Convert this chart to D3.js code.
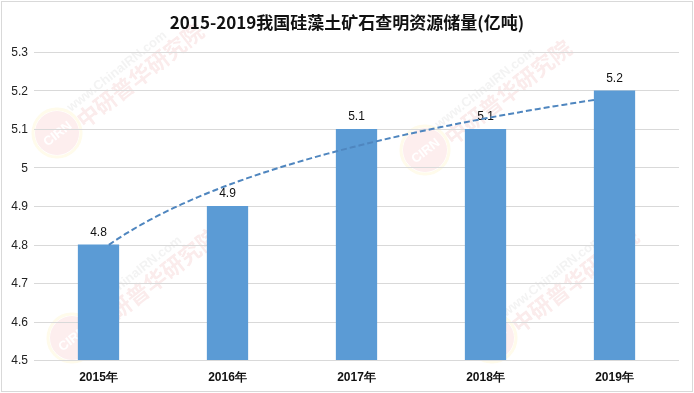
<!DOCTYPE html>
<html>
<head>
<meta charset="utf-8">
<script src="https://cdn.jsdelivr.net/npm/d3@7/dist/d3.min.js"></script>
<style>
  html, body { margin: 0; padding: 0; background: #fff; }
  svg { display: block; }
</style>
</head>
<body>
<svg id="chart" width="694" height="393"></svg>
<script>
// ---- data ----
const title = "2015-2019我国硅藻土矿石查明资源储量(亿吨)";
const categories = ["2015年", "2016年", "2017年", "2018年", "2019年"];
const values = [4.8, 4.9, 5.1, 5.1, 5.2];
const yTicks = [4.5, 4.6, 4.7, 4.8, 4.9, 5.0, 5.1, 5.2, 5.3];
const yTickLabels = ["4.5", "4.6", "4.7", "4.8", "4.9", "5", "5.1", "5.2", "5.3"];

// ---- layout ----
const W = 694, H = 393;
const plot = { left: 34, right: 679, top: 52, bottom: 360 };
const svg = d3.select("#chart");
const font = "'Liberation Sans', Arial, sans-serif";

svg.append("rect").attr("x", 0).attr("y", 0).attr("width", W).attr("height", H).attr("fill", "#fff");
svg.append("rect").attr("x", 1.5).attr("y", 1.5).attr("width", W - 3).attr("height", H - 3)
  .attr("fill", "none").attr("stroke", "#d9d9d9").attr("stroke-width", 1);

const x = d3.scaleBand().domain(categories).range([plot.left, plot.right])
  .paddingInner(0.68).paddingOuter(0.34);
const y = d3.scaleLinear().domain([4.5, 5.3]).range([plot.bottom, plot.top]);

// ---- watermarks (faint) ----
const wm = svg.append("g").attr("opacity", 0.09);
[[57, 133], [425, 150], [72, 338], [492, 338]].forEach(([cx, cy]) => {
  const g = wm.append("g").attr("transform", `translate(${cx},${cy})`);
  g.append("circle").attr("r", 22).attr("fill", "#e8383d");
  g.append("circle").attr("r", 24).attr("fill", "none").attr("stroke", "#f5d020").attr("stroke-width", 3);
  g.append("text").attr("transform", "rotate(-38)").attr("text-anchor", "middle").attr("dy", 5)
    .attr("font-family", font).attr("font-weight", "bold").attr("font-size", 13)
    .attr("fill", "#fff").text("CIRN");
  const t = g.append("g").attr("transform", "rotate(-38)");
  t.append("text").attr("x", 24).attr("y", -8).attr("font-family", font).attr("font-weight", "bold")
    .attr("font-size", 13).attr("fill", "#777").text("www.ChinaIRN.com");
  t.append("text").attr("x", 24).attr("y", 14).attr("font-family", "'Noto Sans CJK SC', sans-serif")
    .attr("font-weight", "bold").attr("font-size", 22).attr("fill", "#c22").text("中研普华研究院");
});

// ---- gridlines ----
svg.append("g").selectAll("line").data(yTicks.slice(1)).join("line")
  .attr("x1", plot.left).attr("x2", plot.right)
  .attr("y1", d => Math.round(y(d)) + 0.5).attr("y2", d => Math.round(y(d)) + 0.5)
  .attr("stroke", "#d9d9d9").attr("stroke-width", 1);

// x axis line
svg.append("line").attr("x1", plot.left).attr("x2", plot.right)
  .attr("y1", plot.bottom + 0.5).attr("y2", plot.bottom + 0.5)
  .attr("stroke", "#d9d9d9").attr("stroke-width", 1);

// ---- y tick labels ----
svg.append("g").selectAll("text").data(yTicks).join("text")
  .attr("x", 28).attr("y", d => y(d) + 4)
  .attr("text-anchor", "end").attr("font-family", font).attr("font-size", 12)
  .attr("fill", "#222").text((d, i) => yTickLabels[i]);

// ---- bars ----
svg.append("g").selectAll("rect").data(values).join("rect")
  .attr("x", (d, i) => x(categories[i])).attr("width", x.bandwidth())
  .attr("y", d => y(d)).attr("height", d => y(4.5) - y(d))
  .attr("fill", "#5b9bd5");

// ---- data labels ----
svg.append("g").selectAll("text").data(values).join("text")
  .attr("x", (d, i) => x(categories[i]) + x.bandwidth() / 2).attr("y", d => y(d) - 9)
  .attr("text-anchor", "middle").attr("font-family", font).attr("font-size", 12)
  .attr("fill", "#111").text(d => String(d));

// ---- x labels ----
svg.append("g").selectAll("text").data(categories).join("text")
  .attr("x", d => x(d) + x.bandwidth() / 2).attr("y", 381)
  .attr("text-anchor", "middle").attr("font-family", font).attr("font-weight", "bold")
  .attr("font-size", 12).attr("fill", "#111").text(d => d);

// ---- logarithmic trendline (least squares fit y = a + b ln x) ----
const xs = values.map((d, i) => i + 1);
const lx = xs.map(Math.log);
const mlx = d3.mean(lx), my = d3.mean(values);
const b = d3.sum(lx, (l, i) => (l - mlx) * (values[i] - my)) / d3.sum(lx, l => (l - mlx) ** 2);
const a = my - b * mlx;
const xi = d3.scaleLinear().domain([1, categories.length])
  .range([x(categories[0]) + x.bandwidth() / 2, x(categories[categories.length - 1]) + x.bandwidth() / 2]);
const tFrom = 1.08, tTo = 4.85;
const trendPts = d3.range(0, 61).map(k => tFrom + (tTo - tFrom) * k / 60);
svg.append("path")
  .datum(trendPts)
  .attr("d", d3.line().x(t => xi(t)).y(t => y(a + b * Math.log(t))).curve(d3.curveLinear))
  .attr("fill", "none").attr("stroke", "#4f86bf").attr("stroke-width", 2)
  .attr("stroke-dasharray", "6,3");

// ---- title ----
svg.append("text").attr("x", 347).attr("y", 29).attr("text-anchor", "middle")
  .attr("font-family", "'Noto Sans CJK SC', 'Liberation Sans', sans-serif").attr("font-weight", "bold")
  .attr("font-size", 17).attr("fill", "#111").text(title);
</script>
</body>
</html>
